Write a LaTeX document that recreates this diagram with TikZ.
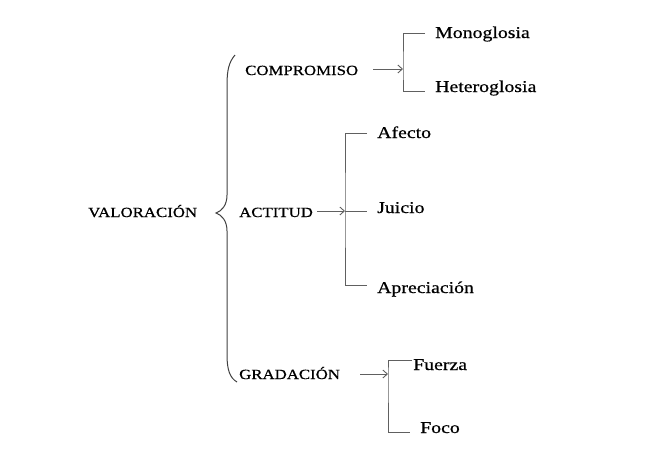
\documentclass[tikz,border=0pt]{standalone}
\usepackage{fontspec}
\setmainfont{Liberation Serif}[FakeStretch=1.2,FakeBold=0.6]
\usetikzlibrary{arrows.meta}
\definecolor{lncol}{HTML}{606060}
\tikzset{
  lbl/.style={anchor=base west, inner sep=0pt, font=\fontsize{14}{16}\selectfont},
  leaf/.style={anchor=base west, inner sep=0pt, font=\fontsize{16.5}{19}\selectfont},
  ln/.style={draw=lncol, line width=1pt},
  arr/.style={draw=lncol, line width=0.9pt, -{Straight Barb[length=4.5pt,width=8pt]}},
  brace/.style={draw=black!75, line width=1pt}
}
\begin{document}
\begin{tikzpicture}[x=1pt,y=-1pt]
\useasboundingbox (0,0) rectangle (659,453);
% labels
\node[lbl] (val) at (88,217) {VALORACIÓN};
\node[lbl] (comp) at (245,75) {COMPROMISO};
\node[lbl] (act) at (239,217) {ACTITUD};
\node[lbl] (grad) at (239,379) {GRADACIÓN};
% leaves
\node[leaf] (mono) at (435,38) {Monoglosia};
\node[leaf] (hetero) at (435,92) {Heteroglosia};
\node[leaf] (afecto) at (377,138) {Afecto};
\node[leaf] (juicio) at (377,213) {Juicio};
\node[leaf] (apre) at (377,293) {Apreciación};
\node[leaf] (fuerza) at (413,370) {Fuerza};
\node[leaf] (foco) at (420,433) {Foco};
% brace
\draw[brace] (235,55) .. controls (229,62) and (227,70) .. (227,85) -- (227,195)
  .. controls (227,205) and (222,211) .. (216,213)
  .. controls (222,215) and (227,221) .. (227,231) -- (227,355)
  .. controls (227,370) and (230,378) .. (237,382);
% junction coordinates
\coordinate (j1) at (403,69);
\coordinate (j2) at (345,211);
\coordinate (j3) at (388,374);
\coordinate (c0) at (373,69);
\coordinate (a0) at (317,211);
\coordinate (g0) at (360,374);
\coordinate (m1) at (425,33);
\coordinate (m2) at (425,91);
\coordinate (t1) at (367,133);
\coordinate (t2) at (367,211);
\coordinate (t3) at (367,285);
\coordinate (f1) at (412,360);
\coordinate (f2) at (410,432);
% arrows
\draw[arr] (c0) -- (j1);
\draw[arr] (a0) -- (j2);
\draw[arr] (g0) -- (j3);
% brackets
\draw[ln] (m1) -| (j1) |- (m2);
\draw[ln] (t1) -| (j2) |- (t3);
\draw[ln] (j2) -- (t2);
\draw[ln] (f1) -| (j3) |- (f2);
\end{tikzpicture}
\end{document}
